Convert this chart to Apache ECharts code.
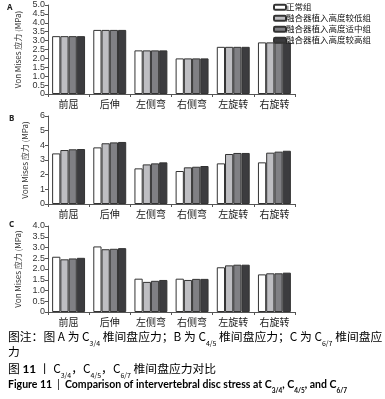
<!DOCTYPE html>
<html>
<head>
<meta charset="utf-8">
<script src="https://cdn.jsdelivr.net/npm/echarts@6/dist/echarts.min.js"></script>
<style>
html,body{margin:0;padding:0;background:#fff;}
#main{width:385px;height:399px;}
</style>
</head>
<body>
<div id="main"></div>
<script>
// 类别和分组
var categories = ['前屈', '后伸', '左侧弯', '右侧弯', '左旋转', '右旋转'];
var groupNames = ['正常组', '融合器植入高度较低组', '融合器植入高度适中组', '融合器植入高度较高组'];

// 图A C3/4
var aNormal = [3.25, 3.6, 2.45, 2.0, 2.65, 2.9];
var aLow = [3.25, 3.6, 2.45, 2.0, 2.65, 2.9];
var aMid = [3.25, 3.6, 2.45, 2.0, 2.65, 2.9];
var aHigh = [3.25, 3.6, 2.45, 2.0, 2.65, 2.9];
// 图B C4/5
var bNormal = [3.45, 3.86, 2.43, 2.25, 2.77, 2.84];
var bLow = [3.68, 4.14, 2.7, 2.5, 3.41, 3.5];
var bMid = [3.73, 4.2, 2.77, 2.54, 3.48, 3.57];
var bHigh = [3.75, 4.23, 2.84, 2.59, 3.48, 3.63];
// 图C C6/7
var cNormal = [2.57, 3.05, 1.55, 1.55, 2.08, 1.75];
var cLow = [2.45, 2.92, 1.4, 1.49, 2.17, 1.8];
var cMid = [2.49, 2.94, 1.45, 1.54, 2.2, 1.8];
var cHigh = [2.52, 2.97, 1.49, 1.54, 2.2, 1.83];

var barColors = ['#ffffff', '#bebec2', '#808084', '#3c3c3f'];
var cjk = '"Noto Sans CJK SC", sans-serif';

var chart = echarts.init(document.getElementById('main'), null, {renderer: 'canvas'});

var grids = [
  {left: 48, right: 90, top: 5, height: 89},
  {left: 48, right: 90, top: 116, height: 88},
  {left: 48, right: 90, top: 226, height: 86}
];
var yMax = [5, 6, 4];
var yStep = [0.5, 1, 0.5];

var xAxes = [];
var yAxes = [];
for (var i = 0; i < 3; i++) {
  xAxes.push({
    type: 'category',
    gridIndex: i,
    data: categories,
    axisLine: {lineStyle: {color: '#555', width: 1}},
    axisTick: {show: true, length: 3, lineStyle: {color: '#555'}},
    axisLabel: {fontSize: 10, color: '#222', fontFamily: cjk, margin: 5}
  });
  yAxes.push({
    type: 'value',
    gridIndex: i,
    min: 0,
    max: yMax[i],
    interval: yStep[i],
    name: 'Von Mises 应力 (MPa)',
    nameLocation: 'middle',
    nameGap: 17,
    nameTextStyle: {fontSize: 8, color: '#333', fontFamily: cjk},
    axisLine: {show: true, lineStyle: {color: '#555', width: 1}},
    axisTick: {show: true, length: 3, lineStyle: {color: '#555'}},
    axisLabel: {
      fontSize: 9, color: '#333', margin: 3,
      formatter: (function (step) {
        return function (v) {
          if (v === 0) return '0';
          return step < 1 ? v.toFixed(1) : String(v);
        };
      })(yStep[i])
    },
    splitLine: {show: false}
  });
}

var panelData = [
  [aNormal, aLow, aMid, aHigh],
  [bNormal, bLow, bMid, bHigh],
  [cNormal, cLow, cMid, cHigh]
];
var searList = [];
for (var p = 0; p < 3; p++) {
  for (var g = 0; g < 4; g++) {
    searList.push({
      name: groupNames[g],
      type: 'bar',
      xAxisIndex: p,
      yAxisIndex: p,
      data: panelData[p][g],
      barGap: '0%',
      barCategoryGap: '20%',
      itemStyle: {color: barColors[g], borderColor: '#333', borderWidth: 1},
      animation: false
    });
  }
}

var capStyle = {
  n: {fontSize: 11.8, lineHeight: 15, fontFamily: cjk, color: '#222'},
  b: {fontSize: 11.8, lineHeight: 15, fontFamily: 'Lato, sans-serif', fontWeight: 'bold', color: '#222'},
  s: {fontSize: 7, lineHeight: 15, fontFamily: cjk, color: '#222', verticalAlign: 'bottom', padding: [0, 0, -2, 0]}
};
var figStyle = {
  n: {fontSize: 10.5, lineHeight: 15, fontFamily: 'Lato, sans-serif', fontWeight: 'bold', color: '#222'},
  t: {fontSize: 10.5, lineHeight: 15, fontFamily: 'Lato, sans-serif', color: '#444'},
  s: {fontSize: 6.5, lineHeight: 15, fontFamily: 'Lato, sans-serif', fontWeight: 'bold', color: '#222', verticalAlign: 'bottom', padding: [0, 0, -2, 0]}
};

var option = {
  backgroundColor: '#fff',
  animation: false,
  legend: {
    data: groupNames,
    orient: 'vertical',
    left: 273,
    top: 3,
    itemWidth: 12,
    itemHeight: 5,
    itemGap: 2.5,
    padding: 0,
    textStyle: {fontSize: 8.5, color: '#111', fontFamily: cjk, padding: [0, 0, 0, -5]}
  },
  grid: grids,
  xAxis: xAxes,
  yAxis: yAxes,
  series: searList,
  graphic: [
    {type: 'text', left: 7, top: 4, style: {text: 'A', fontSize: 8, fontWeight: 'bold', fill: '#222', fontFamily: 'Noto Sans'}},
    {type: 'text', left: 9, top: 115, style: {text: 'B', fontSize: 8, fontWeight: 'bold', fill: '#222', fontFamily: 'Noto Sans'}},
    {type: 'text', left: 9, top: 221, style: {text: 'C', fontSize: 8, fontWeight: 'bold', fill: '#222', fontFamily: 'Noto Sans'}},
    {type: 'text', left: 8, top: 331, style: {
      text: '{n|图注：图 A 为 C}{s|3/4}{n| 椎间盘应力；B 为 C}{s|4/5}{n| 椎间盘应力；C 为 C}{s|6/7}{n| 椎间盘应}',
      rich: capStyle}},
    {type: 'text', left: 8, top: 346, style: {text: '{n|力}', rich: capStyle}},
    {type: 'text', left: 8, top: 363, style: {
      text: '{n|图 }{b|11}{n| 丨 C}{s|3/4}{n|，C}{s|4/5}{n|，C}{s|6/7}{n| 椎间盘应力对比}',
      rich: capStyle}},
    {type: 'text', left: 8, top: 379, style: {
      text: '{n|Figure 11  }{t||}{n|  Comparison of intervertebral disc stress at C}{s|3/4}{n|, C}{s|4/5}{n|, and C}{s|6/7}',
      rich: figStyle}}
  ]
};
chart.setOption(option);
</script>
</body>
</html>
